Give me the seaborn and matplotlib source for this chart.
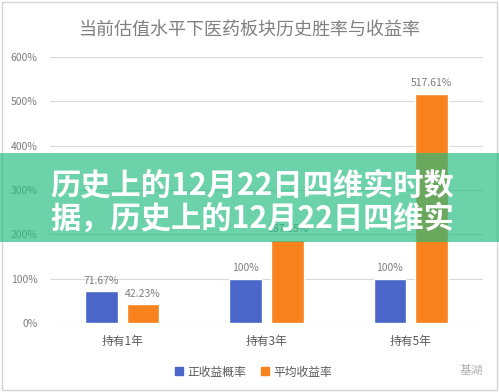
import matplotlib
matplotlib.use("Agg")
import matplotlib.pyplot as plt
from matplotlib.patches import Rectangle
from matplotlib.lines import Line2D
import seaborn as sns
import pandas as pd

categories = ["持有1年", "持有3年", "持有5年"]
series_names = ["正收益概率", "平均收益率"]
win_rate = [71.67, 100, 100]
avg_return = [42.23, 187.35, 517.61]
win_labels = ["71.67%", "100%", "100%"]
ret_labels = ["42.23%", "187.35%", "517.61%"]
y_ticks = [0, 100, 200, 300, 400, 500, 600]
title = "当前估值水平下医药板块历史胜率与收益率"
banner_lines = ["历史上的12月22日四维实时数", "据，历史上的12月22日四维实"]
watermark = "基湖"

BLUE = "#4A66C9"
ORANGE = "#F7821E"
TXT = "#7f7f7f"

sns.set_theme(style="white")
plt.rcParams["font.family"] = ["Noto Sans CJK SC", "DejaVu Sans"]

df = pd.DataFrame({
    "cat": categories * 2,
    "series": [series_names[0]] * 3 + [series_names[1]] * 3,
    "value": win_rate + avg_return,
})

W, H = 499, 392
fig = plt.figure(figsize=(W / 100, H / 100), dpi=100)
ax = fig.add_axes([50 / W, (H - 323) / H, (483 - 50) / W, (323 - 57) / H])

sns.barplot(data=df, x="cat", y="value", hue="series", palette=[BLUE, ORANGE],
            width=0.58, gap=0.22, ax=ax, legend=False, saturation=1)

ax.set_ylim(0, 600)
ax.set_xlim(-0.5, 2.5)
ax.set_yticks(y_ticks)
ax.set_yticklabels([f"{v}%" for v in y_ticks])
ax.set_xlabel("")
ax.set_ylabel("")
ax.grid(axis="y", color="#d9d9d9", linewidth=0.8)
ax.set_axisbelow(True)
for s in ax.spines.values():
    s.set_visible(False)
ax.tick_params(axis="y", length=0, pad=9, labelsize=7.5, labelcolor=TXT)
ax.tick_params(axis="x", length=0, pad=9, labelsize=8.5, labelcolor="#595959")

ax.bar_label(ax.containers[0], labels=win_labels, padding=4, fontsize=7.5, color=TXT)
ax.bar_label(ax.containers[1], labels=ret_labels, padding=4, fontsize=7.5, color=TXT)

fig.text(0.5, 1 - 30 / H, title, ha="center", va="center", fontsize=13, color="#808080")

handles = [Line2D([0], [0], marker="s", linestyle="", markersize=6, color=c) for c in (BLUE, ORANGE)]
fig.legend(handles, series_names, loc="center", bbox_to_anchor=(253 / W, 1 - 372 / H),
           ncol=2, frameon=False, fontsize=8.5, labelcolor="#595959",
           handletextpad=0.3, columnspacing=1.2, handlelength=0.8)

fig.text(483 / W, 1 - 370 / H, watermark, ha="right", va="center", fontsize=8.5, color="#b0b0b0")

fig.patches.append(Rectangle((2 / W, 2 / H), 495 / W, 388 / H, transform=fig.transFigure,
                             fill=False, edgecolor="#d4d4d4", linewidth=1))

fig.patches.append(Rectangle((0, (H - 242) / H), 1, 89 / H, transform=fig.transFigure,
                             facecolor="#20BC7E", alpha=0.66, edgecolor="none", zorder=10))
fig.text(50 / W, 1 - 185 / H, banner_lines[0], ha="left", va="center", fontsize=21.8,
         fontweight="bold", color="white", zorder=11)
fig.text(50 / W, 1 - 219 / H, banner_lines[1], ha="left", va="center", fontsize=21.8,
         fontweight="bold", color="white", zorder=11)

fig.savefig("out.png", dpi=100)
